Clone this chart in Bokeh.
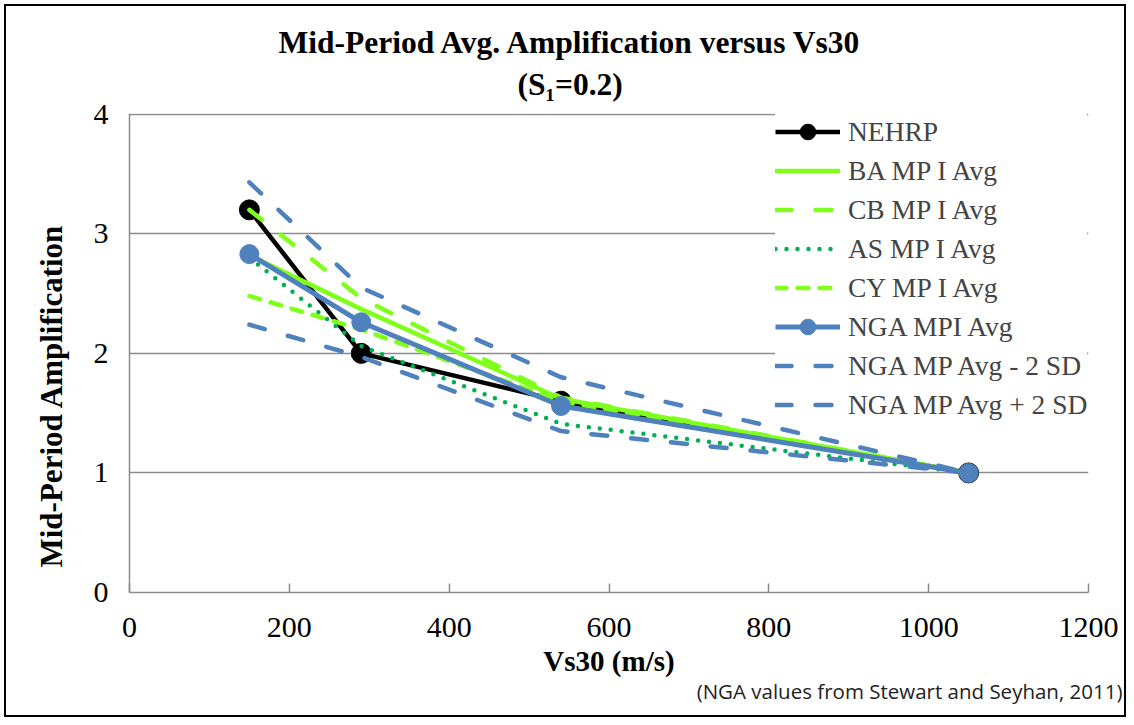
from bokeh.plotting import figure
from bokeh.models import Range1d, Legend, LegendItem, FixedTicker, Title
from bokeh.embed import file_html
from bokeh.resources import INLINE

vs30 = [150, 290, 540, 1050]
nehrp = [3.2, 2.0, 1.6, 1.0]
ba_mp = [2.82, 2.37, 1.62, 1.0]
cb_mp = [3.2, 2.46, 1.63, 1.0]
as_mp = [2.8, 2.06, 1.41, 1.0]
cy_mp = [2.48, 2.2, 1.6, 1.0]
nga_avg = [2.83, 2.26, 1.56, 1.0]
nga_minus = [2.24, 1.97, 1.35, 1.0]
nga_plus = [3.43, 2.55, 1.8, 1.0]
x_ticks = [0, 200, 400, 600, 800, 1000, 1200]
y_ticks = [0, 1, 2, 3, 4]

GREEN = "#7FFF1A"
BLUE = "#4F81BD"
DKGREEN = "#00B050"
SERIF = "Liberation Serif"

p = figure(width=1122, height=713, output_backend="svg", toolbar_location=None,
           x_range=Range1d(0, 1200), y_range=Range1d(0, 4.006),
           min_border_left=123, min_border_right=40, min_border_top=107, min_border_bottom=127)
p.styles = {"border": "2px solid black", "margin": "4px 0 0 4px"}
p.title.visible = False
p.outline_line_color = None
p.background_fill_color = "white"

p.xgrid.visible = False
p.ygrid.ticker = FixedTicker(ticks=y_ticks)
p.ygrid.grid_line_color = "#8C8C8C"
p.ygrid.grid_line_width = 1.5

p.xaxis.ticker = FixedTicker(ticks=x_ticks)
p.yaxis.ticker = FixedTicker(ticks=y_ticks)
for ax in (p.xaxis[0], p.yaxis[0]):
    ax.axis_line_color = "#8C8C8C"
    ax.axis_line_width = 1.5
    ax.major_tick_line_color = "#8C8C8C"
    ax.major_tick_line_width = 1.5
    ax.minor_tick_line_color = None
    ax.major_label_text_font = SERIF
    ax.major_label_text_font_size = "30px"
    ax.major_label_text_color = "black"
p.xaxis.major_label_standoff = 25
p.yaxis.major_label_standoff = 21
p.xaxis.major_tick_in = 9
p.xaxis.major_tick_out = 0
p.yaxis.major_tick_in = 0
p.yaxis.major_tick_out = 0
p.xaxis.axis_label = "Vs30 (m/s)"
p.xaxis.axis_label_text_font = SERIF
p.xaxis.axis_label_text_font_style = "bold"
p.xaxis.axis_label_text_font_size = "29px"
p.xaxis.axis_label_text_color = "black"
p.xaxis.axis_label_standoff = 5

r_nehrp_l = p.line(vs30, nehrp, line_color="black", line_width=4.5)
r_nehrp_m = p.scatter(vs30, nehrp, size=20, fill_color="black", line_color="black")
r_ba = p.line(vs30, ba_mp, line_color=GREEN, line_width=4.5, line_cap="round")
r_cb = p.line(vs30, cb_mp, line_color=GREEN, line_width=4.5, line_cap="round", line_dash="16 24")
r_as = p.line(vs30, as_mp, line_color=DKGREEN, line_width=4.5, line_cap="round", line_dash="0 11")
r_cy = p.line(vs30, cy_mp, line_color=GREEN, line_width=4.5, line_cap="round", line_dash="11 11")
r_nga_l = p.line(vs30, nga_avg, line_color=BLUE, line_width=5)
r_nga_m = p.scatter(vs30, nga_avg, size=19, fill_color=BLUE, line_color=BLUE)
r_minus = p.line(vs30, nga_minus, line_color=BLUE, line_width=4.5, line_cap="round", line_dash="16 24")
r_plus = p.line(vs30, nga_plus, line_color=BLUE, line_width=4.5, line_cap="round", line_dash="16 24")

items = [
    LegendItem(label="NEHRP", renderers=[r_nehrp_l, r_nehrp_m]),
    LegendItem(label="BA MP I Avg", renderers=[r_ba]),
    LegendItem(label="CB MP I Avg", renderers=[r_cb]),
    LegendItem(label="AS MP I Avg", renderers=[r_as]),
    LegendItem(label="CY MP I Avg", renderers=[r_cy]),
    LegendItem(label="NGA MPI Avg", renderers=[r_nga_l, r_nga_m]),
    LegendItem(label="NGA MP Avg - 2 SD", renderers=[r_minus]),
    LegendItem(label="NGA MP Avg + 2 SD", renderers=[r_plus]),
]
legend = Legend(items=items, location=(646, 168), glyph_width=65, glyph_height=39,
                label_height=39, spacing=0, padding=10, margin=0, label_standoff=8,
                label_text_font=SERIF, label_text_font_size="27.5px",
                border_line_color=None, background_fill_color="white", background_fill_alpha=1.0)
p.add_layout(legend, "center")

title2 = Title(text="(S\u2081=0.2)", align="left", offset=388, standoff=23,
               text_font=SERIF, text_font_style="bold", text_font_size="31.5px", text_color="black")
title1 = Title(text="Mid-Period Avg. Amplification versus Vs30", align="left", offset=149, standoff=-13,
               text_font=SERIF, text_font_style="bold", text_font_size="31.5px", text_color="black")
p.add_layout(title2, "above")
p.add_layout(title1, "above")

ylab = Title(text="Mid-Period Amplification", align="left", offset=25, standoff=44,
             text_font=SERIF, text_font_style="bold", text_font_size="31px", text_color="black")
p.add_layout(ylab, "left")

foot = Title(text="(NGA values from Stewart and Seyhan, 2011)", align="right", offset=-34,
             vertical_align="top", standoff=-5,
             text_font="Open Sans", text_font_size="20.5px", text_font_style="normal", text_color="#222222")
p.add_layout(foot, "below")

open("out.html", "w").write(file_html(p, INLINE))
